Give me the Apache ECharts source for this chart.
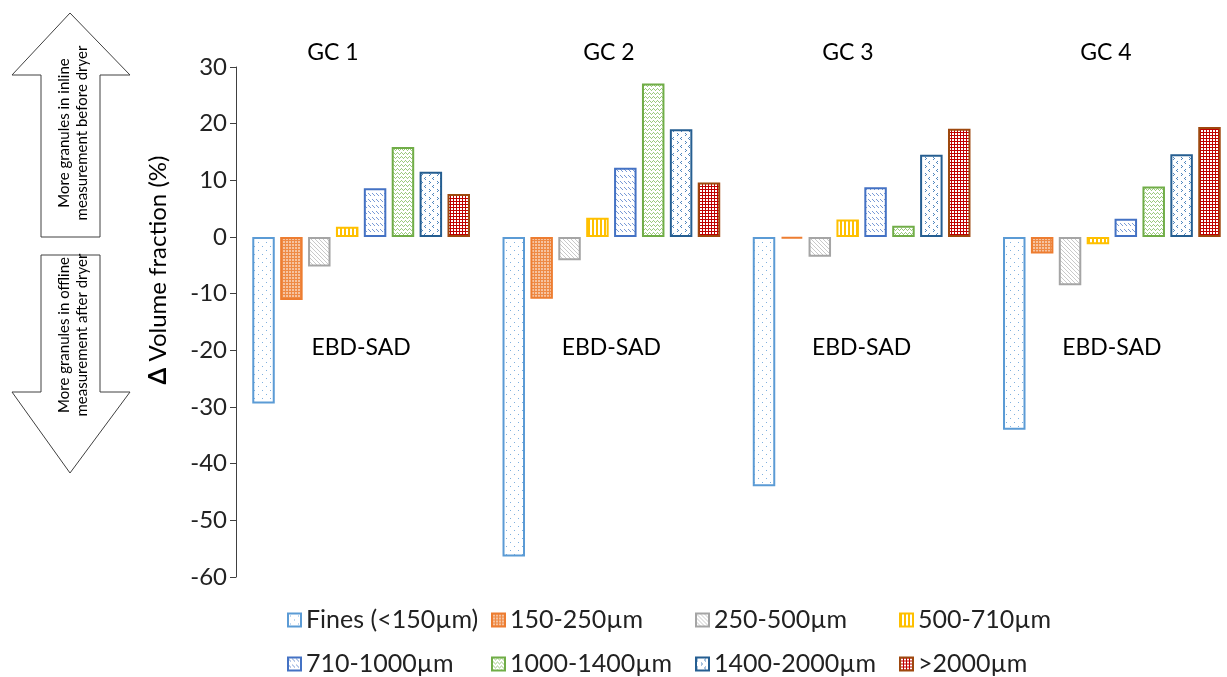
<!DOCTYPE html>
<html>
<head>
<meta charset="utf-8">
<script src="https://cdn.jsdelivr.net/npm/echarts@6/dist/echarts.min.js"></script>
<style>html,body{margin:0;padding:0;background:#fff}#c{width:1227px;height:677px}</style>
</head>
<body>
<div id="c"></div>
<script>
// ---- data ----
const categories = ['GC 1', 'GC 2', 'GC 3', 'GC 4'];
const categoryLabel = 'EBD-SAD';
const seriesNames = ['Fines (<150µm)', '150-250µm', '250-500µm', '500-710µm', '710-1000µm', '1000-1400µm', '1400-2000µm', '>2000µm'];
const fines      = [-29.4, -56.4, -44.0, -34.0];
const s150_250   = [-11.1, -10.9, -0.3, -2.9];
const s250_500   = [-5.2, -4.1, -3.5, -8.5];
const s500_710   = [1.8, 3.4, 3.1, -1.3];
const s710_1000  = [8.6, 12.2, 8.8, 3.2];
const s1000_1400 = [15.9, 27.1, 2.0, 8.9];
const s1400_2000 = [11.5, 19.0, 14.5, 14.6];
const s2000      = [7.6, 9.6, 19.1, 19.4];
const yTicks = { min: -60, max: 30, interval: 10 };

const FONT = 'Lato, "Open Sans", sans-serif';

function pat(w, h, bg, draw) {
  const c = document.createElement('canvas');
  c.width = w; c.height = h;
  const g = c.getContext('2d');
  g.fillStyle = bg; g.fillRect(0, 0, w, h);
  draw(g);
  return { image: c, repeat: 'repeat' };
}
const px = (g, col, pts) => { g.fillStyle = col; pts.forEach(p => g.fillRect(p[0], p[1], 1, 1)); };

const styles = [
  { border: '#5B9BD5', fill: pat(8, 8, '#fff', g => px(g, '#7FB0DF', [[2, 2], [6, 6]])) },
  { border: '#ED7D31', fill: pat(3, 3, '#F6C3A0', g => { g.fillStyle = '#EE8A45'; g.fillRect(0, 0, 3, 1); g.fillRect(0, 0, 1, 3); }) },
  { border: '#A5A5A5', fill: pat(4, 4, '#fff', g => px(g, '#C9C9C9', [[0, 0], [1, 1], [2, 2], [3, 3]])) },
  { border: '#FFC000', fill: pat(4, 1, '#fff', g => { g.fillStyle = '#FFC000'; g.fillRect(0, 0, 2, 1); }) },
  { border: '#4472C4', fill: pat(4, 6, '#fff', g => px(g, '#7A9BD6', [[0, 1], [1, 2], [2, 3]])) },
  { border: '#70AD47', fill: pat(4, 4, '#fff', g => px(g, '#9CC97E', [[0, 1], [1, 0], [2, 1], [3, 2]])) },
  { border: '#255E91', fill: pat(8, 8, '#fff', g => px(g, '#4F86BE', [[1, 1], [0, 2], [1, 3], [5, 5], [6, 6], [5, 7]])) },
  { border: '#9E480E', fill: pat(3, 3, '#fff', g => { g.fillStyle = '#C00000'; g.fillRect(0, 0, 3, 1); g.fillRect(0, 0, 1, 3); }) }
];
const values = [fines, s150_250, s250_500, s500_710, s710_1000, s1000_1400, s1400_2000, s2000];

const series = values.map((d, i) => ({
  name: seriesNames[i],
  type: 'bar',
  data: d,
  barGap: '24%',
  barCategoryGap: '13%',
  itemStyle: { color: styles[i].fill, borderColor: styles[i].border, borderWidth: 2 },
  emphasis: { disabled: true }
}));

const gcLabelPos = [333, 609, 848, 1106];

const chart = echarts.init(document.getElementById('c'), null, { renderer: 'canvas' });
chart.setOption({
  animation: false,
  backgroundColor: '#fff',
  textStyle: { fontFamily: FONT },
  grid: { left: 236, right: -10, top: 67, bottom: 100, containLabel: false, outerBoundsMode: 'none' },
  xAxis: {
    type: 'category',
    data: categories,
    axisLine: { show: false, onZero: false },
    axisTick: { show: false },
    axisLabel: { formatter: () => categoryLabel, margin: -241, fontSize: 23, color: '#000', fontFamily: FONT, hideOverlap: false }
  },
  yAxis: {
    type: 'value',
    min: yTicks.min, max: yTicks.max, interval: yTicks.interval,
    axisLine: { show: true, lineStyle: { color: '#404040', width: 1 } },
    axisTick: { show: true, length: 6, lineStyle: { color: '#404040' } },
    splitLine: { show: false },
    axisLabel: { fontSize: 24, color: '#222', margin: 9, fontFamily: FONT }
  },
  legend: {
    left: 287, top: 603, width: 830, padding: 0,
    itemWidth: 13, itemHeight: 13, itemGap: 10,
    icon: 'rect',
    textStyle: { fontSize: 25, color: '#222', width: 175, lineHeight: 34, fontFamily: FONT },
    selectedMode: false,
    data: seriesNames
  },
  graphic: [
    { type: 'polygon', shape: { points: [[70, 13], [130, 75], [100, 75], [100, 237], [41, 237], [41, 75], [12, 75]] },
      style: { fill: '#fff', stroke: '#404040', lineWidth: 1 } },
    { type: 'polygon', shape: { points: [[41, 255], [100, 255], [100, 392], [130, 392], [70, 473], [12, 392], [41, 392]] },
      style: { fill: '#fff', stroke: '#404040', lineWidth: 1 } },
    { type: 'text', x: 73, y: 133, rotation: Math.PI / 2,
      style: { text: 'More granules in inline\nmeasurement before dryer', fontSize: 15, lineHeight: 18, fill: '#000', align: 'center', verticalAlign: 'middle', fontFamily: FONT } },
    { type: 'text', x: 73, y: 335, rotation: Math.PI / 2,
      style: { text: 'More granules in offline\nmeasurement after dryer', fontSize: 15, lineHeight: 18, fill: '#000', align: 'center', verticalAlign: 'middle', fontFamily: FONT } },
    { type: 'text', x: 158, y: 270, rotation: Math.PI / 2,
      style: { text: '{d|Δ} Volume fraction (%)', rich: { d: { fontWeight: 'bold', fontSize: 24, fontFamily: FONT, fill: '#000' } }, fontSize: 24, fill: '#000', align: 'center', verticalAlign: 'middle', fontFamily: FONT } }
  ].concat(categories.map((c, i) => ({
    type: 'text', x: gcLabelPos[i], y: 53,
    style: { text: c, fontSize: 23, fill: '#000', align: 'center', verticalAlign: 'middle', fontFamily: FONT }
  }))),
  series: series
});
</script>
</body>
</html>
